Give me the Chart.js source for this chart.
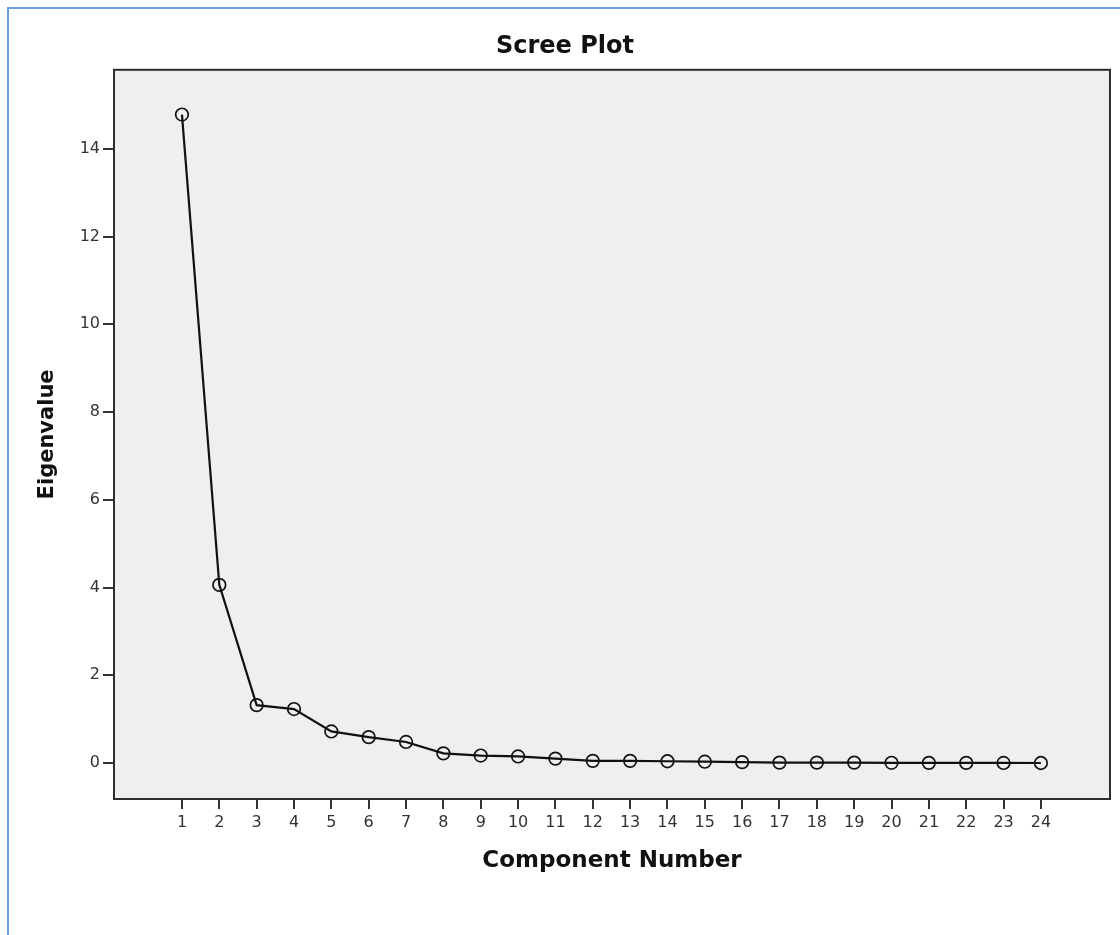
<!DOCTYPE html>
<html>
<head>
<meta charset="utf-8">
<script src="https://cdn.jsdelivr.net/npm/chart.js@4/dist/chart.umd.min.js"></script>
<style>
  html, body { margin: 0; padding: 0; background: #ffffff; }
  body { width: 1120px; height: 935px; position: relative; overflow: hidden; }
  #frame { position: absolute; left: 7px; top: 7px; width: 1130px; height: 960px; border: 2px solid #6aa0dc; box-sizing: border-box; }
  #wrap { position: absolute; left: 0; top: 0; width: 1120px; height: 935px; }
</style>
</head>
<body>
<div id="frame"></div>
<div id="wrap"><canvas id="c" width="1120" height="935"></canvas></div>
<script>
// ---- data ----
const components = [1,2,3,4,5,6,7,8,9,10,11,12,13,14,15,16,17,18,19,20,21,22,23,24];
const eigenvalues = [14.78, 4.06, 1.32, 1.23, 0.72, 0.59, 0.48, 0.22, 0.17, 0.15, 0.10, 0.05,
                     0.05, 0.04, 0.03, 0.02, 0.01, 0.01, 0.01, 0.005, 0.004, 0.003, 0.002, 0.001];
const yTickValues = [0, 2, 4, 6, 8, 10, 12, 14];
const chartTitle = 'Scree Plot';
const xTitle = 'Component Number';
const yTitle = 'Eigenvalue';

Chart.defaults.font.family = "'DejaVu Sans', sans-serif";
Chart.defaults.animation = false;

const plotFrame = {
  id: 'plotFrame',
  beforeDraw(chart) {
    const {ctx, chartArea: a} = chart;
    ctx.save();
    ctx.fillStyle = '#efefef';
    ctx.fillRect(a.left, a.top, a.right - a.left, a.bottom - a.top);
    ctx.restore();
  },
  afterDraw(chart) {
    const {ctx, chartArea: a} = chart;
    ctx.save();
    ctx.strokeStyle = '#2e2e2e';
    ctx.lineWidth = 2;
    ctx.strokeRect(a.left, a.top, a.right - a.left, a.bottom - a.top);
    ctx.restore();
  }
};

new Chart(document.getElementById('c'), {
  type: 'line',
  data: {
    datasets: [{
      data: components.map((c, i) => ({x: c, y: eigenvalues[i]})),
      borderColor: '#111111',
      borderWidth: 2.2,
      pointRadius: 6.3,
      pointBorderWidth: 1.7,
      pointBorderColor: '#111111',
      pointBackgroundColor: 'rgba(0,0,0,0)',
      tension: 0,
      clip: false
    }]
  },
  options: {
    responsive: false,
    layout: { padding: { left: 20, right: 10, top: 0, bottom: 0 } },
    plugins: {
      legend: { display: false },
      tooltip: { enabled: false },
      title: {
        display: true,
        text: chartTitle,
        color: '#111111',
        font: { size: 24, weight: 'bold' },
        padding: { top: 32, bottom: 9 }
      }
    },
    scales: {
      x: {
        type: 'linear',
        min: -0.82,
        max: 25.85,
        afterBuildTicks: s => { s.ticks = components.map(v => ({value: v})); },
        afterFit: s => { s.height = 136; },
        border: { display: false },
        grid: { drawOnChartArea: false, drawTicks: true, tickLength: 10, color: '#333333', lineWidth: 2 },
        ticks: { color: '#333333', font: { size: 16 }, padding: 4, autoSkip: false, maxRotation: 0 },
        title: { display: true, text: xTitle, color: '#111111', font: { size: 23, weight: 'bold' }, padding: { top: 0, bottom: 60 } }
      },
      y: {
        type: 'linear',
        min: -0.82,
        max: 15.8,
        afterBuildTicks: s => { s.ticks = yTickValues.map(v => ({value: v})); },
        afterFit: s => { s.width = 94; },
        border: { display: false },
        grid: { drawOnChartArea: false, drawTicks: true, tickLength: 11, color: '#333333', lineWidth: 2 },
        ticks: { color: '#333333', font: { size: 16 }, padding: 3 },
        title: { display: true, text: yTitle, color: '#111111', font: { size: 21, weight: 'bold' }, padding: { top: 15, bottom: 0 } }
      }
    }
  },
  plugins: [plotFrame]
});
</script>
</body>
</html>
